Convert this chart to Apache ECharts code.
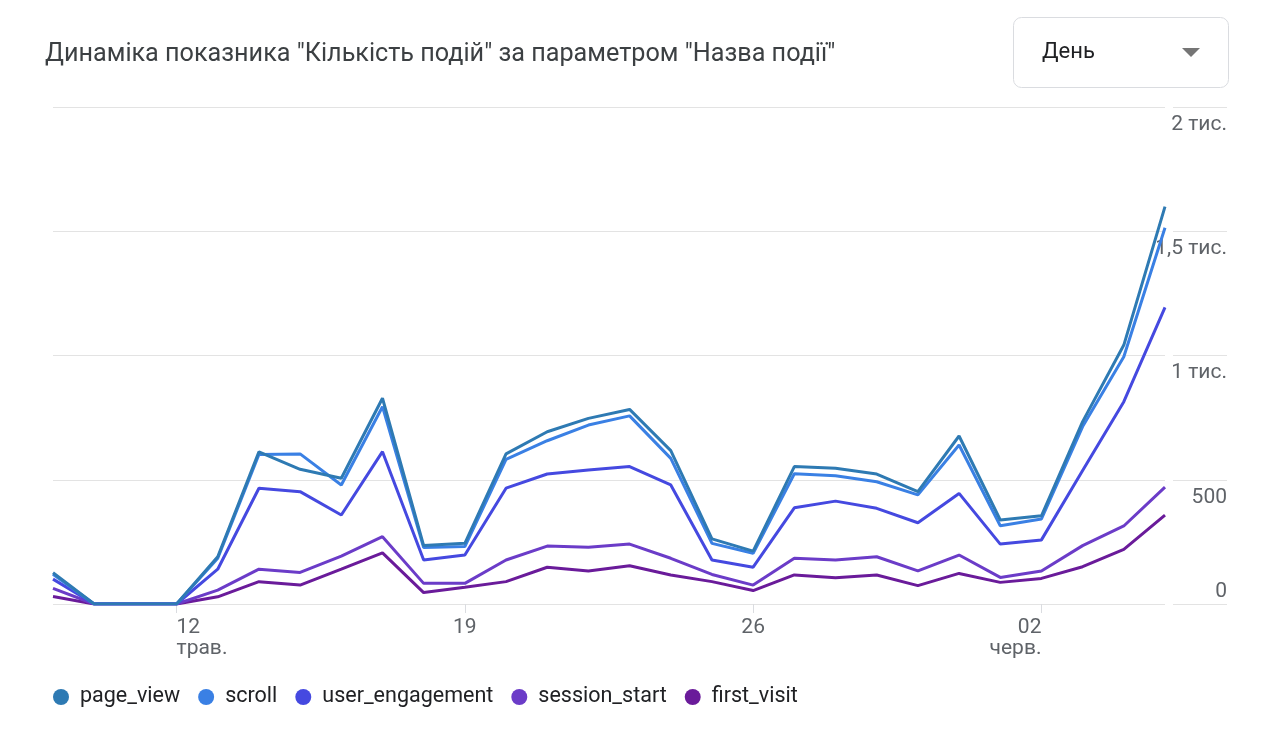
<!DOCTYPE html>
<html>
<head>
<meta charset="utf-8">
<script src="https://cdn.jsdelivr.net/npm/echarts@6/dist/echarts.min.js"></script>
<style>
html,body{margin:0;padding:0;background:#fff;}
#chart{width:1286px;height:736px;}
</style>
</head>
<body>
<div id="chart"></div>
<script>
const categories = ['09.05','10.05','11.05','12.05','13.05','14.05','15.05','16.05','17.05','18.05','19.05','20.05','21.05','22.05','23.05','24.05','25.05','26.05','27.05','28.05','29.05','30.05','31.05','01.06','02.06','03.06','04.06','05.06'];
const pageView = [126,0,0,0,190,612,542,506,828,235,244,604,693,747,783,617,262,213,553,546,523,452,676,338,355,734,1042,1599];
const scroll = [120,0,0,0,184,602,604,479,794,227,231,582,657,720,757,586,244,204,524,516,492,439,640,315,342,714,995,1514];
const userEngagement = [100,0,0,0,140,466,452,358,613,177,197,466,523,539,553,479,177,148,387,414,385,327,445,241,258,537,814,1194];
const sessionStart = [63,0,0,0,56,140,127,193,271,83,83,177,233,228,241,184,119,76,184,177,190,133,197,107,133,235,314,470];
const firstVisit = [30,0,0,0,29,90,76,140,206,46,67,90,148,133,154,117,90,54,117,106,117,74,123,87,103,150,220,358];
const seriesNames = ['page_view','scroll','user_engagement','session_start','first_visit'];
const seriesColors = ['#2e7ab3','#3a80e4','#4549e0','#6b3cc8','#6a1b9a'];
const yTickValues = [0,500,1000,1500,2000];
const yTickLabels = ['0','500','1 тис.','1,5 тис.','2 тис.'];
const xLabelMap = {3:'12\nтрав.',10:'19',17:'26',24:'02\nчерв.'};
const labelIdxCenter = [10,17];
const labelIdxLeft = [3];
const labelIdxRight = [24];
const tickIdx = [3,10,17,24];

const chart = echarts.init(document.getElementById('chart'), null, {renderer:'canvas'});
const labelColor = '#5f6368';
const gridColor = '#e3e3e3';
const fontFamily = 'Roboto, "Noto Sans", sans-serif';

function yLabel(v){ const i = yTickValues.indexOf(v); return i>=0 ? yTickLabels[i] : ''; }

function xAxisCfg(showIdx, align, withTicks){
  return {
    type:'category', data:categories, boundaryGap:false, gridIndex:0, position:'bottom',
    axisLine:{show:false},
    axisTick:{show:withTicks, length:9, alignWithLabel:true, interval:(i)=>tickIdx.includes(i), lineStyle:{color:'#dadce0', width:1}},
    axisLabel:{
      interval:(i)=>showIdx.includes(i),
      formatter:(v,i)=>xLabelMap[i]||'',
      align:align, color:labelColor, fontSize:21, lineHeight:21, fontFamily:fontFamily, margin:13
    },
    splitLine:{show:false}
  };
}

const dataArr = [pageView, scroll, userEngagement, sessionStart, firstVisit];

chart.setOption({
  animation:false,
  textStyle:{fontFamily:fontFamily},
  title:{
    text:'Динаміка показника "Кількість подій" за параметром "Назва події"',
    left:40, top:37,
    textStyle:{fontSize:25.2, fontWeight:'normal', color:'#3c4043', fontFamily:fontFamily}
  },
  legend:{
    left:48, top:681, icon:'circle', itemWidth:16, itemHeight:16, itemGap:18,
    textStyle:{fontSize:21.5, color:'#202124', fontFamily:fontFamily, padding:[0,0,0,6]},
    data:seriesNames
  },
  grid:[
    {left:53, right:121, top:107, bottom:132},
    {left:1173, right:59, top:107, bottom:132}
  ],
  xAxis:[
    xAxisCfg(labelIdxCenter,'center',true),
    xAxisCfg(labelIdxLeft,'left',false),
    xAxisCfg(labelIdxRight,'right',false),
    {type:'value', gridIndex:1, min:0, max:1, show:false}
  ],
  yAxis:[
    {type:'value', gridIndex:0, min:0, max:2000, interval:500, position:'right',
     axisLine:{show:false}, axisTick:{show:false},
     splitLine:{lineStyle:{color:gridColor, width:1}},
     axisLabel:{formatter:(v)=> v===0 ? '' : yLabel(v), align:'right', verticalAlign:'top', margin:62,
       color:labelColor, fontSize:21, fontFamily:fontFamily, padding:[7,0,0,0]}},
    {type:'value', gridIndex:0, min:0, max:2000, interval:500, position:'right',
     axisLine:{show:false}, axisTick:{show:false}, splitLine:{show:false},
     axisLabel:{formatter:(v)=> v===0 ? yLabel(v) : '', align:'right', verticalAlign:'bottom', margin:62,
       color:labelColor, fontSize:21, fontFamily:fontFamily, padding:[0,0,2,0]}},
    {type:'value', gridIndex:1, min:0, max:2000, interval:500,
     axisLine:{show:false}, axisTick:{show:false}, axisLabel:{show:false},
     splitLine:{lineStyle:{color:gridColor, width:1}}}
  ],
  series: seriesNames.map((n,k)=>({
    name:n, type:'line', xAxisIndex:0, yAxisIndex:0, data:dataArr[k],
    showSymbol:false, symbol:'circle', symbolSize:0,
    lineStyle:{width:3, color:seriesColors[k]}, itemStyle:{color:seriesColors[k]},
    z:10-k
  })).concat([{type:'line', xAxisIndex:3, yAxisIndex:2, data:[], silent:true}]),
  graphic:[
    {type:'rect', shape:{x:1013.5, y:17.5, width:215, height:70, r:8}, style:{fill:'#fff', stroke:'#dadce0', lineWidth:1}},
    {type:'text', x:1042, y:52, style:{text:'День', fontSize:22, fontFamily:fontFamily, fill:'#202124', verticalAlign:'middle', align:'left'}},
    {type:'polygon', shape:{points:[[1182,48],[1200,48],[1191,57]]}, style:{fill:'#757575'}}
  ]
});
</script>
</body>
</html>
